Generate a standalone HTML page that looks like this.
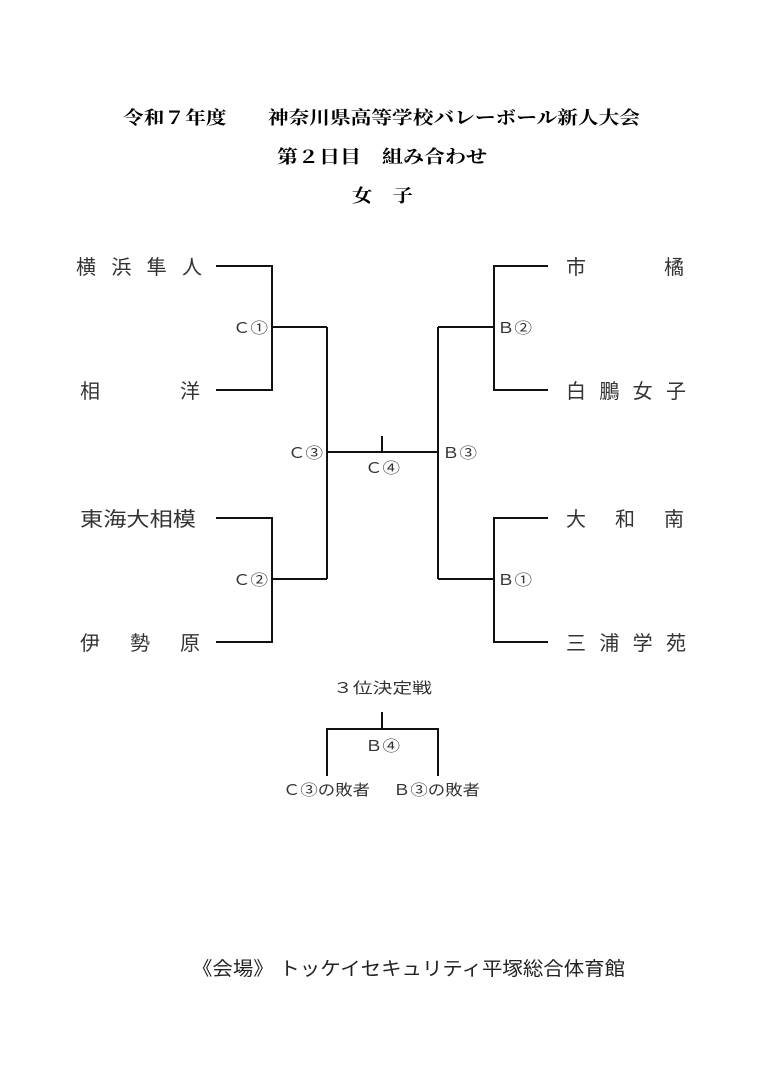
<!DOCTYPE html>
<html><head><meta charset="utf-8"><style>
body{margin:0;background:#fff;}
svg{display:block;}
text{font-family:"Liberation Sans","Noto Sans CJK JP",sans-serif;fill:#222;}
.b{font-family:"Liberation Serif","Noto Serif CJK SC",serif;font-weight:bold;fill:#000;}
.t{font-size:20px;fill:#333;}
.l{font-size:15px;fill:#333;}
</style></head><body>
<svg width="763" height="1079" viewBox="0 0 763 1079" xmlns="http://www.w3.org/2000/svg">
<text class="b" x="123" y="124" font-size="18" textLength="517" lengthAdjust="spacingAndGlyphs">令和７年度　　神奈川県高等学校バレーボール新人大会</text>
<text class="b" x="277" y="163" font-size="18" textLength="210" lengthAdjust="spacingAndGlyphs">第２日目　組み合わせ</text>
<text class="b" x="352" y="202" font-size="18" textLength="61" lengthAdjust="spacingAndGlyphs">女　子</text>

<g stroke="#111" stroke-width="2" fill="none">
<polyline points="216,266 272,266 272,390 216,390"/>
<line x1="272" y1="327" x2="327" y2="327"/>
<polyline points="216,518 272,518 272,642 216,642"/>
<line x1="272" y1="579" x2="327" y2="579"/>
<line x1="327" y1="327" x2="327" y2="579"/>
<line x1="327" y1="452" x2="438" y2="452"/>
<line x1="382" y1="436" x2="382" y2="452"/>
<line x1="438" y1="327" x2="438" y2="579"/>
<line x1="438" y1="327" x2="494" y2="327"/>
<line x1="438" y1="579" x2="494" y2="579"/>
<polyline points="548,266 494,266 494,390 548,390"/>
<polyline points="548,518 494,518 494,642 548,642"/>
<line x1="382" y1="712" x2="382" y2="729"/>
<polyline points="327,776 327,729 438,729 438,776"/>
</g>

<text class="t" x="76" y="274" textLength="126" lengthAdjust="spacing">横浜隼人</text>
<text class="t" x="80" y="398" textLength="120" lengthAdjust="spacing">相　　洋</text>
<text class="t" x="80" y="526" textLength="116" lengthAdjust="spacingAndGlyphs">東海大相模</text>
<text class="t" x="80" y="650" textLength="120" lengthAdjust="spacing">伊勢原</text>
<text class="t" x="566" y="274" textLength="118" lengthAdjust="spacing">市　　橘</text>
<text class="t" x="566" y="398" textLength="120" lengthAdjust="spacing">白鵬女子</text>
<text class="t" x="566" y="526" textLength="118" lengthAdjust="spacing">大和南</text>
<text class="t" x="566" y="650" textLength="120" lengthAdjust="spacing">三浦学苑</text>

<text class="l" x="233" y="333" textLength="35" lengthAdjust="spacingAndGlyphs">Ｃ①</text>
<text class="l" x="233" y="585" textLength="35" lengthAdjust="spacingAndGlyphs">Ｃ②</text>
<text class="l" x="288" y="458" textLength="35" lengthAdjust="spacingAndGlyphs">Ｃ③</text>
<text class="l" x="365" y="473" textLength="35" lengthAdjust="spacingAndGlyphs">Ｃ④</text>
<text class="l" x="442" y="458" textLength="35" lengthAdjust="spacingAndGlyphs">Ｂ③</text>
<text class="l" x="497" y="333" textLength="35" lengthAdjust="spacingAndGlyphs">Ｂ②</text>
<text class="l" x="497" y="585" textLength="35" lengthAdjust="spacingAndGlyphs">Ｂ①</text>

<text class="l" x="333" y="693" font-size="16" textLength="99" lengthAdjust="spacingAndGlyphs">３位決定戦</text>
<text class="l" x="365" y="751" textLength="35" lengthAdjust="spacingAndGlyphs">Ｂ④</text>
<text class="l" x="283" y="795" textLength="87" lengthAdjust="spacingAndGlyphs">Ｃ③の敗者</text>
<text class="l" x="393" y="795" textLength="87" lengthAdjust="spacingAndGlyphs">Ｂ③の敗者</text>

<text x="192" y="975" font-size="19" fill="#222" textLength="433" lengthAdjust="spacingAndGlyphs">《会場》 トッケイセキュリティ平塚総合体育館</text>
</svg>
</body></html>
